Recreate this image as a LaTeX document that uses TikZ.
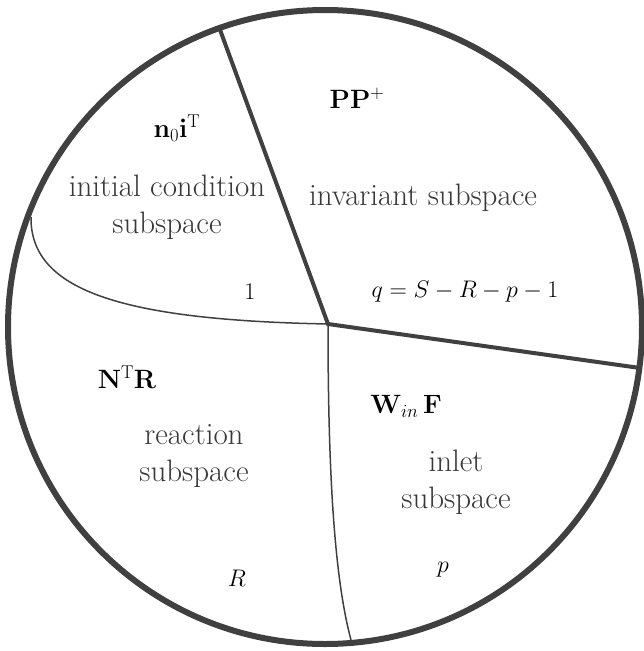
\RequirePackage{fix-cm}
\documentclass[tikz,border=0pt]{standalone}
\usepackage{amsmath}
\definecolor{ink}{HTML}{404040}
\definecolor{textink}{HTML}{383838}
\begin{document}
\begin{tikzpicture}[x=1pt,y=-1pt,
  rim/.style={draw=ink,line width=6pt},
  thick border/.style={draw=ink,line width=4pt},
  thin border/.style={draw=ink,line width=1.5pt},
  region/.style={text=textink,font=\fontsize{31}{37}\selectfont,align=center,inner sep=0pt},
  mlabel/.style={text=black,font=\fontsize{24}{29}\selectfont,inner sep=0pt},
  blabel/.style={text=black,font=\fontsize{26.5}{32}\selectfont,inner sep=0pt}]
\useasboundingbox (0,0) rectangle (644,651);
\coordinate (C) at (328,324);
\coordinate (A) at (219,27);
\coordinate (B) at (640,368);
\coordinate (L) at (31,217);
\coordinate (D) at (351,640);
\node[rim,circle,minimum size=634pt,inner sep=0pt] (circ) at (325,327) {};
\draw[thick border] (A) -- (C) -- (B);
\draw[thin border] (C) .. controls (120,320) and (30,290) .. (L);
\draw[thin border] (C) .. controls (328,480) and (335,580) .. (D);
% labels
\node[blabel] (n0) at (177,128) {$\mathbf{n}_0\mathbf{i}^{\mathrm{T}}$};
\node[region] (ic) at (167,207) {initial condition\\subspace};
\node[mlabel] (one) at (250,292) {$1$};
\node[blabel] (pp) at (357,98) {$\mathbf{P}\mathbf{P}^{+}$};
\node[region] (inv) at (423,198) {invariant subspace};
\node[mlabel] (q) at (465,292) {$q=S-R-p-1$};
\node[blabel] (ntr) at (127,377) {$\mathbf{N}^{\mathrm{T}}\mathbf{R}$};
\node[region] (rs) at (194,456) {reaction\\subspace};
\node[mlabel] (r) at (237,578) {$R$};
\node[blabel] (wf) at (406,406) {$\mathbf{W}_{in}\,\mathbf{F}$};
\node[region] (is) at (456,482) {inlet\\subspace};
\node[mlabel] (p) at (443,570) {$p$};
\end{tikzpicture}
\end{document}
